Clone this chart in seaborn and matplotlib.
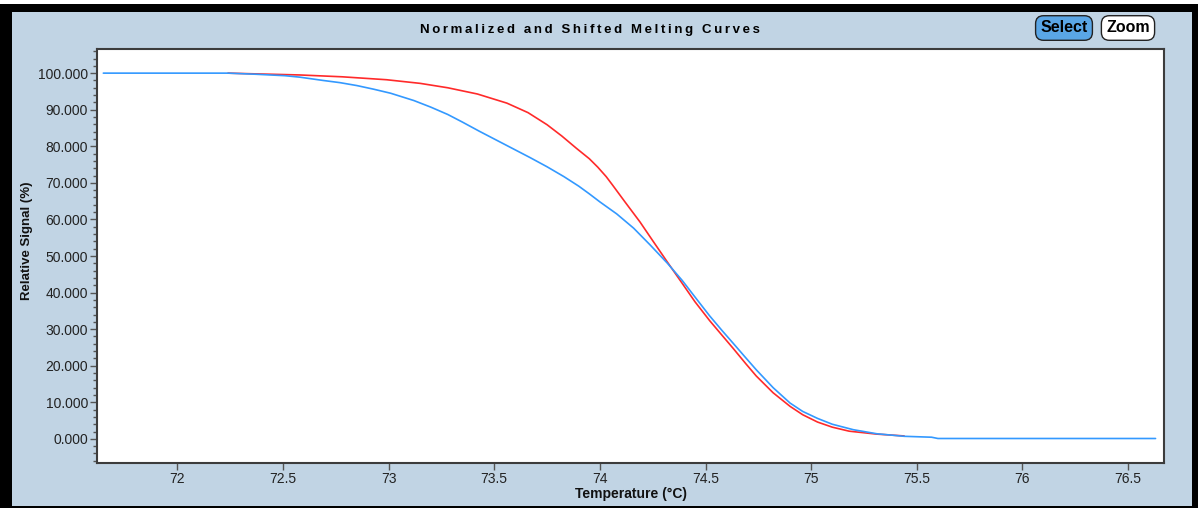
import numpy as np
import pandas as pd
import seaborn as sns
import matplotlib.pyplot as plt
from matplotlib.patches import Rectangle
from matplotlib.ticker import MultipleLocator, FormatStrFormatter

# curve 1 (red)
temp_red = [72.24, 72.37, 72.58, 72.78, 72.99, 73.15, 73.28, 73.42, 73.56, 73.66,
            73.75, 73.82, 73.89, 73.95, 73.99, 74.03, 74.06, 74.12, 74.19, 74.25,
            74.32, 74.39, 74.45, 74.52, 74.58, 74.63, 74.69, 74.74, 74.82, 74.90,
            74.96, 75.03, 75.10, 75.18, 75.31, 75.44]
signal_red = [100.0, 99.8, 99.5, 99.0, 98.2, 97.2, 96.0, 94.3, 91.8, 89.2,
              85.9, 82.8, 79.4, 76.6, 74.3, 71.7, 69.4, 64.7, 59.3, 54.2,
              48.3, 42.5, 37.5, 32.3, 28.2, 24.8, 20.6, 17.2, 12.6, 8.9,
              6.6, 4.6, 3.2, 2.1, 1.3, 0.8]

# curve 2 (blue)
temp_blue = [71.65, 72.24, 72.37, 72.51, 72.58, 72.69, 72.77, 72.85, 72.93, 73.01,
             73.12, 73.20, 73.28, 73.35, 73.43, 73.51, 73.59, 73.67, 73.75, 73.83,
             73.90, 73.95, 74.00, 74.08, 74.16, 74.24, 74.32, 74.39, 74.45, 74.52,
             74.58, 74.63, 74.69, 74.74, 74.82, 74.90, 74.96, 75.03, 75.10, 75.20,
             75.31, 75.44, 75.57, 75.60, 76.63]
signal_blue = [100.0, 100.0, 99.7, 99.3, 98.9, 98.0, 97.4, 96.6, 95.6, 94.5,
               92.5, 90.7, 88.7, 86.6, 84.1, 81.7, 79.3, 76.9, 74.4, 71.7,
               69.1, 67.0, 64.8, 61.5, 57.6, 52.9, 48.0, 43.3, 38.8, 33.6,
               29.5, 26.2, 22.2, 18.9, 14.0, 9.8, 7.5, 5.6, 4.0, 2.5,
               1.4, 0.7, 0.45, 0.1, 0.1]

df = pd.concat([
    pd.DataFrame({"Temperature": temp_red, "Signal": signal_red, "curve": "A"}),
    pd.DataFrame({"Temperature": temp_blue, "Signal": signal_blue, "curve": "B"}),
])

sns.set_style("ticks")
plt.rcParams["font.family"] = ["Liberation Sans", "DejaVu Sans"]

W, H = 1198, 508
fig = plt.figure(figsize=(W / 100, H / 100), dpi=100, facecolor="white")

# black frame and light blue panel
fig.patches.append(Rectangle((0, 0), 1, 1 - 4 / H, transform=fig.transFigure,
                             facecolor="black", edgecolor="none", zorder=-2))
fig.patches.append(Rectangle((12 / W, 2 / H), (1192 - 12) / W, (506 - 12) / H,
                             transform=fig.transFigure, facecolor="#c1d4e4",
                             edgecolor="none", zorder=-1))

ax = fig.add_axes([97 / W, (H - 463) / H, (1164 - 97) / W, (463 - 49) / H])
ax.set_facecolor("white")

sns.lineplot(data=df, x="Temperature", y="Signal", hue="curve",
             palette={"A": "#ff2a2a", "B": "#3399ff"}, estimator=None,
             sort=True, linewidth=1.2, legend=False, ax=ax)

ax.set_xlim(71.62, 76.67)
ax.set_ylim(-6.6, 106.6)
ax.xaxis.set_major_locator(MultipleLocator(0.5))
ax.xaxis.set_major_formatter(FormatStrFormatter("%g"))
ax.yaxis.set_major_locator(MultipleLocator(10))
ax.yaxis.set_minor_locator(MultipleLocator(2))
ax.yaxis.set_major_formatter(FormatStrFormatter("%.3f"))
ax.set_xlabel("")
ax.set_ylabel("")

for s in ax.spines.values():
    s.set_visible(True)
    s.set_color("#3c3c3c")
    s.set_linewidth(1.5)

ax.tick_params(axis="both", which="major", length=5, width=1, color="#555555",
               labelsize=10, labelcolor="#222222", pad=1.5)
ax.tick_params(axis="y", which="minor", length=3, width=1, color="#555555")

# title with wide letter spacing
title = "Normalized and Shifted Melting Curves"
fig.text(590 / W, 1 - 30 / H, "\u2009".join(title), ha="center", va="center",
         fontsize=9.5, fontweight="bold", color="black")

fig.text(27 / W, 1 - 241 / H, "Relative Signal (%)", rotation=90, ha="center",
         va="center", fontsize=9.5, fontweight="bold", color="#111111")
fig.text(631 / W, 1 - 494 / H, "Temperature (°C)", ha="center", va="center",
         fontsize=10, fontweight="bold", color="#111111")

# buttons
fig.text(1064 / W, 1 - 28 / H, "Select", ha="center", va="center",
         fontsize=11.5, fontweight="bold", color="black",
         bbox=dict(boxstyle="round,pad=0.3,rounding_size=0.5",
                   facecolor="#5aa6e6", edgecolor="#222222", linewidth=1))
fig.text(1128 / W, 1 - 28 / H, "Zoom", ha="center", va="center",
         fontsize=11.5, fontweight="bold", color="black",
         bbox=dict(boxstyle="round,pad=0.3,rounding_size=0.5",
                   facecolor="white", edgecolor="#222222", linewidth=1))

fig.savefig("out.png", dpi=100, facecolor=fig.get_facecolor())
